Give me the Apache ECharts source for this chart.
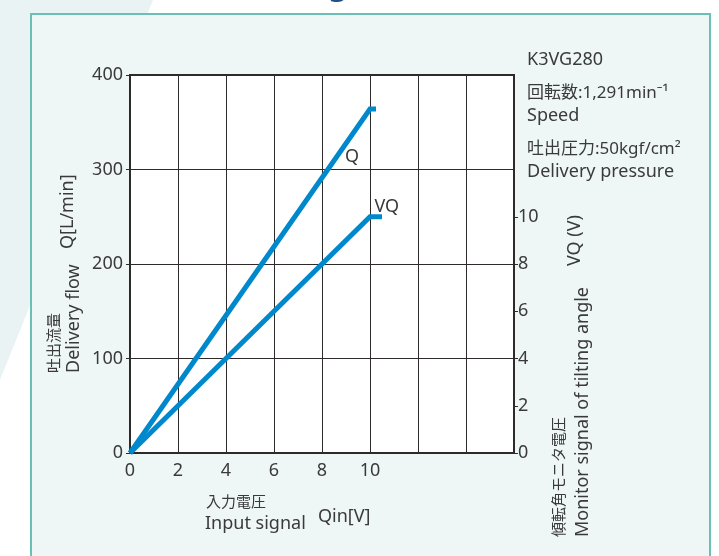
<!DOCTYPE html>
<html><head><meta charset="utf-8">
<script src="https://cdn.jsdelivr.net/npm/echarts@6/dist/echarts.min.js"></script>
<style>html,body{margin:0;padding:0;background:#fff}#c{width:719px;height:556px}</style>
</head><body><div id="c"></div>
<script>
// Data
const qinTicks = [0, 2, 4, 6, 8, 10];
const flowTicks = [0, 100, 200, 300, 400];
const vqTicks = [0, 2, 4, 6, 8, 10];
const qSeries = [[0, 0], [10, 364], [10.25, 364]];
const vqSeries = [[0, 0], [10, 10], [10.5, 10]];
const infoLines = ['K3VG280', '回転数:1,291min⁻¹', 'Speed', '吐出圧力:50kgf/cm²', 'Delivery pressure'];

const FONT = '"Noto Sans", "Noto Sans CJK JP", sans-serif';
const TXT = '#3a3a3a';
const LINE = '#0088cc';
const GRIDC = '#2e2a29';

const chart = echarts.init(document.getElementById('c'));
function txt(x, y, s, opts) {
  return Object.assign({
    type: 'text', x: x, y: y, z: 10,
    style: Object.assign({ text: s, fill: TXT, font: '18px ' + FONT, textVerticalAlign: 'middle' }, (opts && opts.style) || {})
  }, opts ? { rotation: opts.rotation || 0 } : {});
}
const infoY = [60, 93, 116, 149, 172];
const infoFont = ['18px', '17px', '18px', '17px', '18px'];
const graphics = [
  { type: 'polygon', z: -10, shape: { points: [[0, 0], [153, 0], [0, 380]] }, style: { fill: '#e9f3f3' } },
  { type: 'rect', z: -9, shape: { x: 31, y: 14, width: 679, height: 560 }, style: { fill: '#eef6f6', stroke: '#6cbfb5', lineWidth: 2 } },
  { type: 'text', x: 338, y: 1, z: 10, style: { text: 'g', fill: '#1d4f8a', font: 'bold 30px ' + FONT, textAlign: 'center', textVerticalAlign: 'bottom' } },
  // left axis name
  txt(55, 373, '吐出流量', { rotation: Math.PI / 2, style: { font: '15px ' + FONT } }),
  txt(74, 373, 'Delivery flow', { rotation: Math.PI / 2 }),
  txt(68, 249, 'Q[L/min]', { rotation: Math.PI / 2 }),
  // bottom axis name
  txt(206, 503, '入力電圧', { style: { font: '15px ' + FONT } }),
  txt(205, 524, 'Input signal'),
  txt(318, 517, 'Qin[V]'),
  // right axis name
  txt(560, 537, '傾転角モニタ電圧', { rotation: Math.PI / 2, style: { font: '15px ' + FONT } }),
  txt(583, 537, 'Monitor signal of tilting angle', { rotation: Math.PI / 2 }),
  txt(575, 266, 'VQ (V)', { rotation: Math.PI / 2 })
];
infoLines.forEach((s, i) => graphics.push(txt(527, infoY[i], s, { style: { font: infoFont[i] + ' ' + FONT } })));

chart.setOption({
  animation: false,
  backgroundColor: 'transparent',
  grid: { left: 130, right: 205, top: 75, bottom: 103, show: true, backgroundColor: '#fff', borderColor: GRIDC, borderWidth: 2 },
  xAxis: {
    type: 'value', min: 0, max: 16, interval: 2,
    axisLine: { show: true, onZero: false, lineStyle: { color: GRIDC, width: 2 } },
    axisTick: { show: false },
    axisLabel: { customValues: qinTicks, color: TXT, fontSize: 18, fontFamily: FONT, margin: 9 },
    splitLine: { show: true, lineStyle: { color: GRIDC, width: 1 } }
  },
  yAxis: [{
    type: 'value', min: 0, max: 400, interval: 50, position: 'left',
    axisLine: { show: true, lineStyle: { color: GRIDC, width: 2 } },
    axisTick: { show: true, customValues: flowTicks, length: 4, lineStyle: { color: GRIDC } },
    axisLabel: { customValues: flowTicks, color: TXT, fontSize: 18, fontFamily: FONT, margin: 7 },
    splitLine: { show: true, lineStyle: { color: GRIDC, width: 1 } }
  }, {
    type: 'value', min: 0, max: 16, interval: 2, position: 'right',
    axisLine: { show: true, lineStyle: { color: GRIDC, width: 2 } },
    axisTick: { show: true, customValues: vqTicks, length: 4, lineStyle: { color: GRIDC } },
    axisLabel: { customValues: vqTicks, color: TXT, fontSize: 18, fontFamily: FONT, margin: 4 },
    splitLine: { show: false }
  }],
  series: [
    { name: 'Q', type: 'line', yAxisIndex: 0, data: qSeries, symbol: 'none', clip: false, z: 5,
      lineStyle: { color: LINE, width: 5, join: 'miter' } },
    { name: 'VQ', type: 'line', yAxisIndex: 1, data: vqSeries, symbol: 'none', clip: false, z: 5,
      lineStyle: { color: LINE, width: 5, join: 'miter' } }
  ],
  graphic: graphics
});

// series annotation labels anchored to data coordinates
const qPos = chart.convertToPixel({ xAxisIndex: 0, yAxisIndex: 0 }, [9.25, 313]);
const vqPos = chart.convertToPixel({ xAxisIndex: 0, yAxisIndex: 1 }, [10.7, 10.4]);
graphics.push({ type: 'text', x: qPos[0], y: qPos[1], z: 10, style: { text: 'Q', fill: TXT, font: '18px ' + FONT, textAlign: 'center', textVerticalAlign: 'middle' } });
graphics.push({ type: 'text', x: vqPos[0], y: vqPos[1], z: 10, style: { text: 'VQ', fill: TXT, font: '18px ' + FONT, textAlign: 'center', textVerticalAlign: 'middle' } });
chart.setOption({ graphic: graphics }, { replaceMerge: ['graphic'] });
</script>
</body></html>
